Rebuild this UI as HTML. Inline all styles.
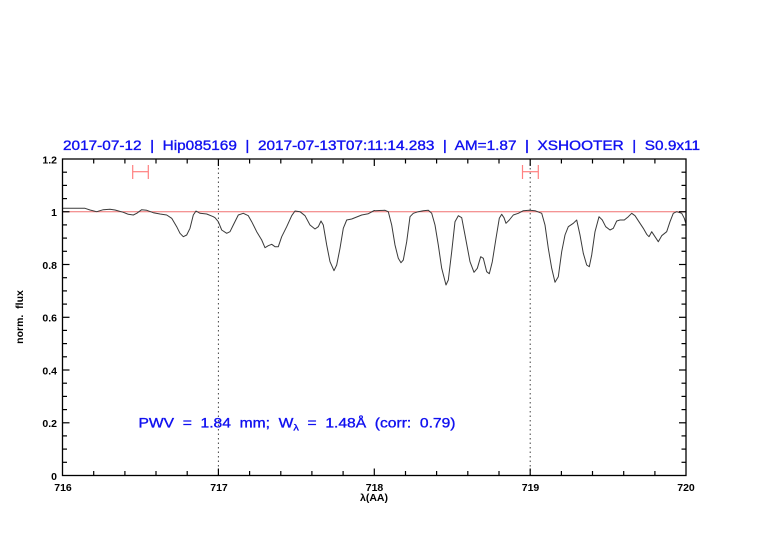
<!DOCTYPE html>
<html>
<head>
<meta charset="utf-8">
<style>
html,body{margin:0;padding:0;background:#fff;}
svg{display:block;}
text{font-family:"Liberation Sans",sans-serif;white-space:pre;}
</style>
</head>
<body>
<svg width="782" height="542" viewBox="0 0 782 542" xmlns="http://www.w3.org/2000/svg" xml:space="preserve">
<rect width="782" height="542" fill="#fff"/>
<!-- title -->
<text x="63" y="150" font-size="13.5" fill="#1010f0" stroke="#1010f0" stroke-width="0.35" textLength="637" lengthAdjust="spacingAndGlyphs">2017-07-12  |  Hip085169  |  2017-07-13T07:11:14.283  |  AM=1.87  |  XSHOOTER  |  S0.9x11</text>

<!-- reference line at 1 -->
<line x1="62.5" y1="211.75" x2="686" y2="211.75" stroke="#f07070" stroke-width="1"/>

<!-- dotted verticals -->
<line x1="218.4" y1="159" x2="218.4" y2="475.5" stroke="#444" stroke-width="1" stroke-dasharray="1.5,3"/>
<line x1="530.2" y1="159" x2="530.2" y2="475.5" stroke="#444" stroke-width="1" stroke-dasharray="1.5,3"/>

<!-- red error bars -->
<g stroke="#ff8080" stroke-width="1.2" fill="none">
<line x1="132.7" y1="171.7" x2="148.3" y2="171.7"/>
<line x1="132.7" y1="165" x2="132.7" y2="179"/>
<line x1="148.3" y1="165" x2="148.3" y2="179"/>
<line x1="522.5" y1="171.7" x2="538.3" y2="171.7"/>
<line x1="522.5" y1="165" x2="522.5" y2="179"/>
<line x1="538.3" y1="165" x2="538.3" y2="179"/>
</g>

<!-- spectrum -->
<polyline fill="none" stroke="#3a3a3a" stroke-width="1" stroke-linejoin="round" points="
62.5,208.3 66.7,208.3 85,208.3 90,210 96.7,211.7 103.3,209.7 110,209.3 115,210 123.3,212.3 128.3,214.3 133.3,215 136.7,213.3 141.7,209.7 146.7,210.3 153.3,212.7 160,214 166.7,215 171.7,218.3 176.7,226.7 180,233.3 183.3,236.7 186.7,235 190,228.3 193.3,215 196,211 200,213.3 206.7,214 213.3,216.7 215,217.7 218.3,221.7 221.7,230 226.7,233.3 230,231.7 233.3,225 238.3,215 243.3,213.3 248.3,215.7 251.7,221.7 256.7,231.7 261.7,240 265,247.7 268.3,245.7 271.7,244.3 275,246.7 278.3,246.7 281.7,236.7 286.7,226.7 291.7,215.7 295,211 300,211.7 305,215.7 310,225 315,229 318.3,226.7 321,221 323.3,225 326.7,245 330,261.7 334,270.7 336.7,265 340,248.3 343.3,228.3 346.7,220 351.7,219 356.7,217 361.7,215 368.3,213.7 374.3,210.5 375,210.7 385,210.3 388.3,211.7 391.7,225 395,245 398.3,258.3 401,262.7 403.3,260 406.7,241.7 410,216.7 413.3,213.3 418.3,211.7 423.3,210.7 428.3,210.3 431.7,213.3 435,225 438.3,245 441.7,268.3 446,285 448.3,280 451.7,251.7 455,221.7 458.3,215.7 461.7,217.7 465,235 470,261.7 474,272.3 477.3,268.3 480.7,256.7 483.3,258.3 486.7,271.7 489.3,273.7 492.3,261.7 496,238.3 499.3,218.3 501.7,214.3 504,217.7 506,223.3 509.3,220 513.3,215 518.3,213.3 523.3,210.7 529.3,210.3 535,210.7 541.7,213.3 545,225 548.3,248.3 551.7,268.3 555,282.3 558.3,276.7 561.7,251.7 565,235 568.3,226.7 573.3,223.3 576.7,220 580,235 583.3,253.3 586.7,265 589.3,266.7 591.7,255 595,231.7 599,216.7 602.3,220 605.7,226.7 610,230 613.3,228.3 616.7,221 620,220 624.3,220 628.3,216.7 631.7,213.3 635,215.7 640,223.3 643.3,228.3 646.7,234.3 649,236.7 651.7,231.7 655,236.7 658.3,241.7 661.7,235.7 666.7,231.7 670,221.7 673.3,213.3 676.7,211.7 681.7,213.3 684.3,218.3 686,224"/>

<!-- axes box -->
<rect x="62.5" y="159" width="623.5" height="316.5" fill="none" stroke="#000" stroke-width="1.3"/>

<!-- x ticks -->
<g stroke="#000" stroke-width="1.2">
<line x1="93.7" y1="475.5" x2="93.7" y2="471"/><line x1="93.7" y1="159" x2="93.7" y2="163.5"/>
<line x1="124.9" y1="475.5" x2="124.9" y2="471"/><line x1="124.9" y1="159" x2="124.9" y2="163.5"/>
<line x1="156" y1="475.5" x2="156" y2="471"/><line x1="156" y1="159" x2="156" y2="163.5"/>
<line x1="187.2" y1="475.5" x2="187.2" y2="471"/><line x1="187.2" y1="159" x2="187.2" y2="163.5"/>
<line x1="218.4" y1="475.5" x2="218.4" y2="468.5"/><line x1="218.4" y1="159" x2="218.4" y2="166"/>
<line x1="249.6" y1="475.5" x2="249.6" y2="471"/><line x1="249.6" y1="159" x2="249.6" y2="163.5"/>
<line x1="280.8" y1="475.5" x2="280.8" y2="471"/><line x1="280.8" y1="159" x2="280.8" y2="163.5"/>
<line x1="311.9" y1="475.5" x2="311.9" y2="471"/><line x1="311.9" y1="159" x2="311.9" y2="163.5"/>
<line x1="343.1" y1="475.5" x2="343.1" y2="471"/><line x1="343.1" y1="159" x2="343.1" y2="163.5"/>
<line x1="374.3" y1="475.5" x2="374.3" y2="468.5"/><line x1="374.3" y1="159" x2="374.3" y2="166"/>
<line x1="405.5" y1="475.5" x2="405.5" y2="471"/><line x1="405.5" y1="159" x2="405.5" y2="163.5"/>
<line x1="436.6" y1="475.5" x2="436.6" y2="471"/><line x1="436.6" y1="159" x2="436.6" y2="163.5"/>
<line x1="467.8" y1="475.5" x2="467.8" y2="471"/><line x1="467.8" y1="159" x2="467.8" y2="163.5"/>
<line x1="499" y1="475.5" x2="499" y2="471"/><line x1="499" y1="159" x2="499" y2="163.5"/>
<line x1="530.2" y1="475.5" x2="530.2" y2="468.5"/><line x1="530.2" y1="159" x2="530.2" y2="166"/>
<line x1="561.4" y1="475.5" x2="561.4" y2="471"/><line x1="561.4" y1="159" x2="561.4" y2="163.5"/>
<line x1="592.5" y1="475.5" x2="592.5" y2="471"/><line x1="592.5" y1="159" x2="592.5" y2="163.5"/>
<line x1="623.7" y1="475.5" x2="623.7" y2="471"/><line x1="623.7" y1="159" x2="623.7" y2="163.5"/>
<line x1="654.9" y1="475.5" x2="654.9" y2="471"/><line x1="654.9" y1="159" x2="654.9" y2="163.5"/>
</g>

<!-- y ticks -->
<g stroke="#000" stroke-width="1.2">
<line x1="62.5" y1="462.3" x2="67" y2="462.3"/><line x1="686" y1="462.3" x2="681.5" y2="462.3"/>
<line x1="62.5" y1="449.1" x2="67" y2="449.1"/><line x1="686" y1="449.1" x2="681.5" y2="449.1"/>
<line x1="62.5" y1="435.9" x2="67" y2="435.9"/><line x1="686" y1="435.9" x2="681.5" y2="435.9"/>
<line x1="62.5" y1="422.8" x2="69.5" y2="422.8"/><line x1="686" y1="422.8" x2="679" y2="422.8"/>
<line x1="62.5" y1="409.6" x2="67" y2="409.6"/><line x1="686" y1="409.6" x2="681.5" y2="409.6"/>
<line x1="62.5" y1="396.4" x2="67" y2="396.4"/><line x1="686" y1="396.4" x2="681.5" y2="396.4"/>
<line x1="62.5" y1="383.2" x2="67" y2="383.2"/><line x1="686" y1="383.2" x2="681.5" y2="383.2"/>
<line x1="62.5" y1="370" x2="69.5" y2="370"/><line x1="686" y1="370" x2="679" y2="370"/>
<line x1="62.5" y1="356.8" x2="67" y2="356.8"/><line x1="686" y1="356.8" x2="681.5" y2="356.8"/>
<line x1="62.5" y1="343.6" x2="67" y2="343.6"/><line x1="686" y1="343.6" x2="681.5" y2="343.6"/>
<line x1="62.5" y1="330.4" x2="67" y2="330.4"/><line x1="686" y1="330.4" x2="681.5" y2="330.4"/>
<line x1="62.5" y1="317.3" x2="69.5" y2="317.3"/><line x1="686" y1="317.3" x2="679" y2="317.3"/>
<line x1="62.5" y1="304.1" x2="67" y2="304.1"/><line x1="686" y1="304.1" x2="681.5" y2="304.1"/>
<line x1="62.5" y1="290.9" x2="67" y2="290.9"/><line x1="686" y1="290.9" x2="681.5" y2="290.9"/>
<line x1="62.5" y1="277.7" x2="67" y2="277.7"/><line x1="686" y1="277.7" x2="681.5" y2="277.7"/>
<line x1="62.5" y1="264.5" x2="69.5" y2="264.5"/><line x1="686" y1="264.5" x2="679" y2="264.5"/>
<line x1="62.5" y1="251.3" x2="67" y2="251.3"/><line x1="686" y1="251.3" x2="681.5" y2="251.3"/>
<line x1="62.5" y1="238.1" x2="67" y2="238.1"/><line x1="686" y1="238.1" x2="681.5" y2="238.1"/>
<line x1="62.5" y1="224.9" x2="67" y2="224.9"/><line x1="686" y1="224.9" x2="681.5" y2="224.9"/>
<line x1="62.5" y1="211.75" x2="69.5" y2="211.75"/><line x1="686" y1="211.75" x2="679" y2="211.75"/>
<line x1="62.5" y1="198.6" x2="67" y2="198.6"/><line x1="686" y1="198.6" x2="681.5" y2="198.6"/>
<line x1="62.5" y1="185.4" x2="67" y2="185.4"/><line x1="686" y1="185.4" x2="681.5" y2="185.4"/>
<line x1="62.5" y1="172.2" x2="67" y2="172.2"/><line x1="686" y1="172.2" x2="681.5" y2="172.2"/>
</g>

<!-- y tick labels -->
<g font-size="10.5" font-weight="bold" fill="#000" text-anchor="end">
<text x="57" y="480">0</text>
<text x="57" y="427">0.2</text>
<text x="57" y="374.5">0.4</text>
<text x="57" y="321.5">0.6</text>
<text x="57" y="269">0.8</text>
<text x="57" y="216">1</text>
<text x="57" y="163.5">1.2</text>
</g>

<!-- x tick labels -->
<g font-size="10.5" font-weight="bold" fill="#000" text-anchor="middle">
<text x="63" y="491">716</text>
<text x="219" y="491">717</text>
<text x="374.5" y="491">718</text>
<text x="530.5" y="491">719</text>
<text x="686" y="491">720</text>
</g>

<!-- axis titles -->
<text x="374" y="501" font-size="10.5" font-weight="bold" fill="#000" text-anchor="middle">λ(AA)</text>
<text transform="translate(23,317) rotate(-90)" font-size="10.5" font-weight="bold" fill="#000" text-anchor="middle">norm.  flux</text>

<!-- PWV annotation -->
<text x="138.5" y="427.5" font-size="13.5" fill="#1010f0" stroke="#1010f0" stroke-width="0.35" textLength="317" lengthAdjust="spacingAndGlyphs">PWV  =  1.84  mm;  W<tspan font-size="9.5" dy="3">λ</tspan><tspan dy="-3">  =  1.48Å  (corr:  0.79)</tspan></text>
</svg>
</body>
</html>
